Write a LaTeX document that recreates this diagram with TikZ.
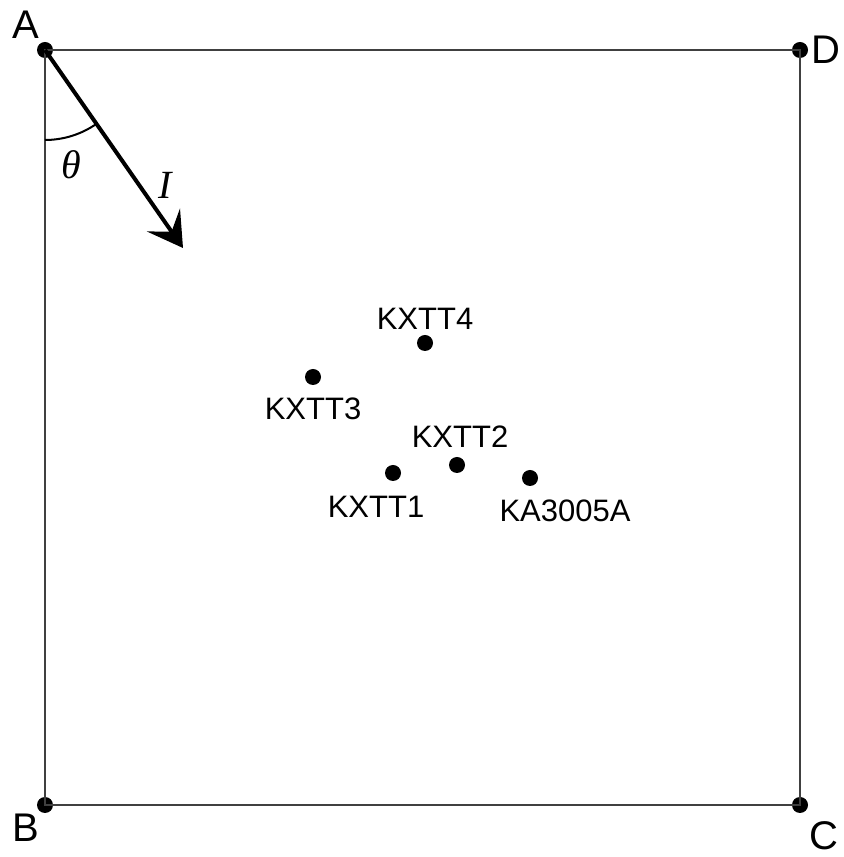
\documentclass[tikz,border=0pt]{standalone}
\usepackage{fontspec}
\setmainfont{Liberation Sans}
\newfontfamily\serifit{Liberation Serif}
\usetikzlibrary{arrows.meta}
\begin{document}
\begin{tikzpicture}[x=0.5pt,y=0.5pt,
  frame/.style={draw=black!75, line width=0.6pt},
  dot/.style={circle, fill=black, inner sep=0pt, minimum size=8pt},
  corner/.style={font=\fontsize{20}{24}\selectfont, inner sep=0pt},
  lab/.style={font=\fontsize{15.5}{18}\selectfont, inner sep=0pt},
  sym/.style={font=\serifit\itshape\fontsize{20}{24}\selectfont, inner sep=0pt}]
\useasboundingbox (0,0) rectangle (844,857);
\node[dot] (A) at (45,807) {};
\node[dot] (D) at (800,807) {};
\node[dot] (B) at (45,52) {};
\node[dot] (C) at (800,52) {};
\draw[frame] (A.center) -- (D.center) -- (C.center) -- (B.center) -- cycle;
\node[corner] (lA) at (26,832) {A};
\node[corner] (lD) at (826,807) {D};
\node[corner] (lB) at (26,29) {B};
\node[corner] (lC) at (824,21) {C};
\coordinate (tip) at (183,609);
\draw[line width=2pt, -{Stealth[length=17pt, width=20pt, inset=7pt]}] (A.center) -- (tip);
\draw[line width=1pt] (45,717) arc[start angle=270, end angle=305, radius=90];
\node[sym] (theta) at (71,692) {θ};
\node[sym] (I) at (165,672) {I};
\node[dot] (k4) at (425,514) {};
\node[lab] at (425,538) {KXTT4};
\node[dot] (k3) at (313,480) {};
\node[lab] at (313,448) {KXTT3};
\node[dot] (k2) at (457,392) {};
\node[lab] at (460,420) {KXTT2};
\node[dot] (k1) at (393,384) {};
\node[lab] at (376,350) {KXTT1};
\node[dot] (ka) at (530,379) {};
\node[lab] at (565,346) {KA3005A};
\end{tikzpicture}
\end{document}
